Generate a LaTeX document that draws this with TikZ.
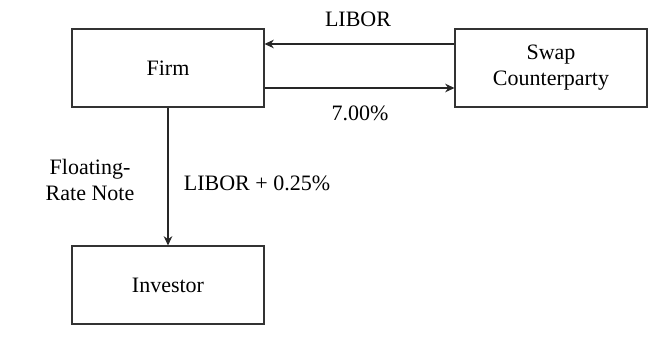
\documentclass[tikz,border=0pt]{standalone}
\usepackage{fontspec}
\setmainfont{Liberation Serif}
\usetikzlibrary{arrows.meta}
\begin{document}
\begin{tikzpicture}[x=0.75pt,y=-0.75pt,
    party/.style={shape=rectangle,draw=black!80,line width=0.8pt,minimum width=144pt,minimum height=58.5pt,align=center},
    flow/.style={-{Stealth[length=7pt,width=6.5pt]},line width=0.8pt,draw=black!85},
    font=\fontsize{16.5}{19.5}\selectfont]
    \useasboundingbox (0,0) rectangle (667,342);
    \node[party] (firm) at (168,68) {Firm};
    \node[party] (swap) at (551,68) {Swap\\Counterparty};
    \node[party] (investor) at (168,285) {Investor};

    \node (libor) at (358,19) {LIBOR};
    \node (fixed) at (360,113) {7.00\%};
    \node[align=center] (frn) at (90,180) {Floating-\\Rate Note};
    \node (spread) at (257,183) {LIBOR + 0.25\%};

    \draw[flow] ([yshift=18pt]swap.west) -- ([yshift=18pt]firm.east);
    \draw[flow] ([yshift=-15pt]firm.east) -- ([yshift=-15pt]swap.west);
    \draw[flow] (firm) -- (investor);
\end{tikzpicture}
\end{document}
